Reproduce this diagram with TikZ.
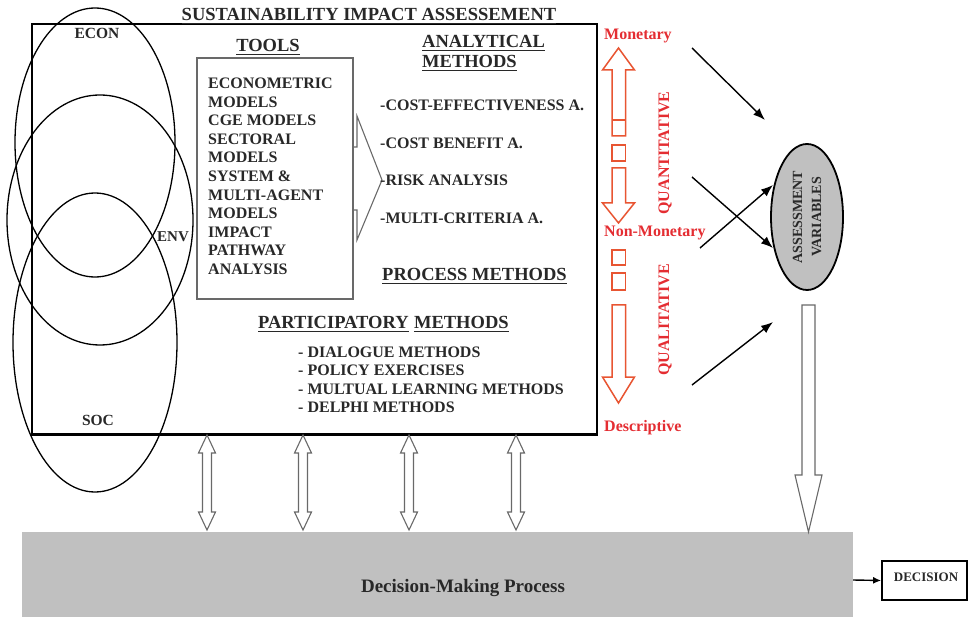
\documentclass[tikz,border=0pt]{standalone}
\usepackage{fontspec}
\setmainfont{Liberation Serif}
\usetikzlibrary{shapes.geometric,arrows.meta}
\definecolor{redtxt}{RGB}{228,45,50}
\definecolor{redarr}{RGB}{232,85,50}
\definecolor{boxgray}{RGB}{192,192,192}
\definecolor{edgegray}{RGB}{105,105,105}
\definecolor{inkgray}{RGB}{40,40,40}
\begin{document}
\begin{tikzpicture}[x=1pt,y=-1pt,
  hdr/.style={font=\fontsize{18.5}{20}\selectfont\bfseries, inner sep=0pt, text depth=0pt, text=inkgray},
  item/.style={font=\fontsize{16}{18}\selectfont\bfseries, inner sep=0pt, text depth=0pt, text=inkgray},
  redlab/.style={font=\fontsize{16}{18}\selectfont\bfseries, inner sep=0pt, text=redtxt},
  uline/.style={line width=1.5pt, inkgray},
  venn/.style={ellipse, draw, line width=1.3pt, inner sep=0pt},
  blockline/.style={draw=edgegray, line width=1.1pt, fill=white, line join=miter},
  redline/.style={draw=redarr, line width=1.5pt, line join=miter},
  arr/.style={line width=1.4pt, -{Latex[length=12pt,width=9pt]}},
  dblarrow/.pic={
    \draw[blockline] (0,0) -- (8.5,18) -- (4.5,18) -- (4.5,77) -- (8.5,77) -- (0,95)
      -- (-8.5,77) -- (-4.5,77) -- (-4.5,18) -- (-8.5,18) -- cycle;}
]
\useasboundingbox (0,0) rectangle (971,617);

% decision-making band
\node[fill=boxgray, minimum width=831pt, minimum height=85pt, inner sep=0pt] (dmp) at (437.5,574.5) {};
\node[font=\fontsize{19}{21}\selectfont\bfseries, text=inkgray, inner sep=0pt] (dmptext) at (463,588) {Decision-Making Process};

% decision box
\node[draw, line width=1.8pt, minimum width=85pt, minimum height=39pt, inner sep=0pt] (dec) at (924.5,580.5) {};
\node[font=\fontsize{13}{15}\selectfont\bfseries, text=inkgray, inner sep=0pt] (dectext) at (926,577) {DECISION};
\coordinate (dmpout) at (853,580);
\draw[line width=1.4pt, -{Latex[length=8pt,width=7pt]}] (dmpout) -- (dec.west);

% main assessment frame
\node[draw, line width=1.7pt, minimum width=565pt, minimum height=410pt, inner sep=0pt] (sia) at (314.5,229) {};
\draw[line width=2.4pt] (sia.south west) -- (sia.south east);

% three pillars
\node[venn, minimum width=160pt, minimum height=269pt] (econ) at (95,142.5) {};
\node[venn, minimum width=186pt, minimum height=250pt] (env) at (100,220) {};
\node[venn, minimum width=164pt, minimum height=299pt] (soc) at (95,342.5) {};
\node[item, font=\fontsize{15.5}{17}\selectfont\bfseries] (econlab) at (97,33) {ECON};
\node[item, font=\fontsize{15}{17}\selectfont\bfseries] (envlab) at (173,237) {ENV};
\node[item, font=\fontsize{15.5}{17}\selectfont\bfseries] (soclab) at (98,420) {SOC};

% title
\node[hdr, anchor=base] (title) at (369,21) {SUSTAINABILITY IMPACT ASSESSEMENT};

% tools
\node[hdr, anchor=base] (tools) at (268,52) {TOOLS};
\node[draw=edgegray, line width=1.1pt, minimum width=156pt, minimum height=241pt, inner sep=0pt] (toolbox) at (275,178.5) {};
\foreach \t [count=\i from 0] in {ECONOMETRIC, MODELS, CGE MODELS, SECTORAL, MODELS,
    SYSTEM \&, MULTI-AGENT, MODELS, IMPACT, PATHWAY, ANALYSIS}
  \node[item, anchor=base west] (tool\i) at (208,88.5+18.6*\i) {\t};

% open arrow from the tools to the analytical methods
\draw[blockline, fill=none] (toolbox.east |- 0,147) -- (357,147) -- (357,116) -- (382,180)
  -- (357,240) -- (357,210) -- (toolbox.east |- 0,210);

% analytical methods
\node[hdr, anchor=base west] (anal) at (422,48) {ANALYTICAL};
\node[hdr, anchor=base west] (meth) at (422,68) {METHODS};
\foreach \t/\yy [count=\i] in {-COST-EFFECTIVENESS A./110.5, -COST BENEFIT A./148.5,
    -RISK ANALYSIS/185.5, -MULTI-CRITERIA A./223.5}
  \node[item, anchor=base west] (am\i) at (380,\yy) {\t};

% process and participatory methods
\node[hdr, anchor=base west] (proc) at (382,281) {PROCESS METHODS};
\node[hdr, anchor=base west] (partA) at (258,329) {PARTICIPATORY};
\node[hdr, anchor=base west] (partB) at ([xshift=5pt]partA.base east) {METHODS};
\foreach \t [count=\i from 0] in {- DIALOGUE METHODS, - POLICY EXERCISES,
    - MULTUAL LEARNING METHODS, - DELPHI METHODS}
  \node[item, anchor=base west] (pm\i) at (298,357.5+18.3*\i) {\t};

% underlined headings
\foreach \n in {title,tools,anal,meth,proc,partA,partB}
  \draw[uline] ([yshift=-2.5pt]\n.base west) -- ([yshift=-2.5pt]\n.base east);

% four exchanges with the decision-making process
\foreach \xx in {207,303,409,516}
  \pic at (\xx,435) {dblarrow};

% quantitative / qualitative scale
\node[redlab, anchor=base west] (mon) at (604,40) {Monetary};
\node[redlab, anchor=base west] (nonmon) at (604,237) {Non-Monetary};
\node[redlab, anchor=base west] (desc) at (604,431) {Descriptive};
\node[redlab, rotate=90] (quant) at (665,153) {QUANTITATIVE};
\node[redlab, rotate=90] (qual) at (665,320) {QUALITATIVE};

\draw[redline] (618.5,48) -- (634.5,70) -- (625.5,70) -- (625.5,136) -- (612,136)
  -- (612,70) -- (602.5,70) -- cycle;
\draw[redline] (612,120) -- (625.5,120);
\draw[redline] (612,145) rectangle (625.5,161);
\draw[redline] (612,168) -- (625.5,168) -- (625.5,203) -- (634.5,203) -- (618.5,223)
  -- (602.5,203) -- (612,203) -- cycle;
\draw[redline] (612,250) rectangle (625.5,265);
\draw[redline] (612,273) rectangle (625.5,290);
\draw[redline] (612,305) -- (625.5,305) -- (625.5,377) -- (634.5,377) -- (618.5,403)
  -- (602.5,377) -- (612,377) -- cycle;

% assessment variables
\node[ellipse, draw, line width=1.8pt, fill=boxgray, minimum width=72pt, minimum height=146pt, inner sep=0pt] (av) at (807,217) {};
\node[rotate=90, align=center, inner sep=0pt, text=inkgray,
  font=\fontsize{14}{19}\selectfont\bfseries] (avtext) at (av) {ASSESSMENT\\VARIABLES};

\coordinate (s1) at (692,48);   \coordinate (e1) at (765,120);
\coordinate (s2) at (692,177);  \coordinate (e2) at (773,248);
\coordinate (s3) at (700,248);  \coordinate (e3) at (773,185);
\coordinate (s4) at (692,385);  \coordinate (e4) at (773,322);
\draw[arr] (s1) -- (e1);
\draw[arr] (s2) -- (e2);
\draw[arr] (s3) -- (e3);
\draw[arr] (s4) -- (e4);

% outcome of the assessment passed down to the decision-making process
\draw[blockline] (802,305) -- (815,305) -- (815,475) -- (822,475) -- (808.5,532)
  -- (795,475) -- (802,475) -- cycle;
\end{tikzpicture}
\end{document}
